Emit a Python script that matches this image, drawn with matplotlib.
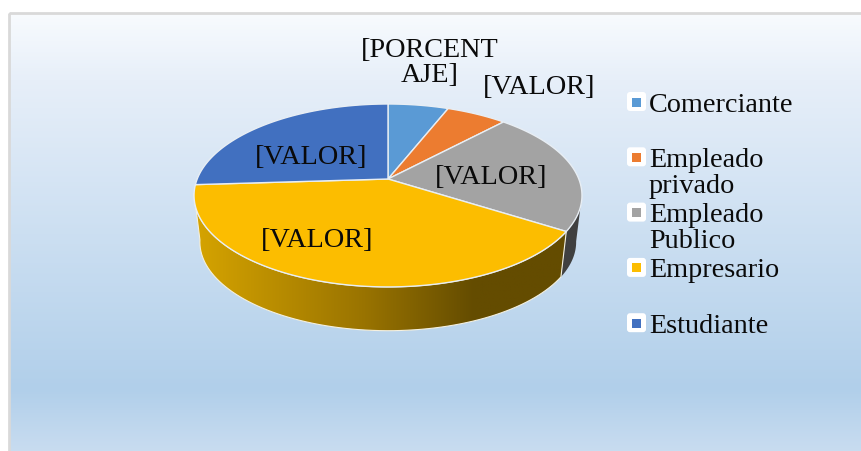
import matplotlib
matplotlib.use('Agg')
import matplotlib.pyplot as plt
import numpy as np
from matplotlib.colors import LinearSegmentedColormap
from matplotlib.patches import Polygon, Rectangle, FancyBboxPatch

categories = ['Comerciante', 'Empleado\nprivado', 'Empleado\nPublico', 'Empresario', 'Estudiante']
values = [6, 6, 22, 40, 26]
colors = ['#5A9AD5', '#EC7C30', '#A3A3A3', '#FCBD00', '#4170C0']

plt.rcParams['font.family'] = ['Liberation Serif', 'DejaVu Serif']
W, H = 861, 452
fig = plt.figure(figsize=(W / 100, H / 100), dpi=100)
ax = fig.add_axes([0, 0, 1, 1])

# panel background
bg = LinearSegmentedColormap.from_list('bg', [(0, '#F8FBFE'), (0.15, '#E7EFF9'), (0.86, '#B1CFEA'), (1, '#C8DCF0')])
ax.imshow(np.linspace(0, 1, 256).reshape(-1, 1), cmap=bg, extent=[9, W, H, 14], aspect='auto', zorder=0)
ax.add_patch(Rectangle((9, 14), W, H, fill=False, ec='#D9D9D9', lw=2, zorder=1))

# tilted pie, slight perspective
cx, cy = 388, 180
A, B, k = 88.5, 190.8, 0.18


def project(t, scale=1.0, dy=0.0):
    X, Y = np.sin(t), np.cos(t)
    d = 1 + k * Y
    return cx + scale * B * X / d, cy + dy - scale * A * Y / d


edges = np.cumsum([0] + values) / sum(values) * 2 * np.pi
depth, shrink = 47, 0.97


def wall(t0, t1):
    t = np.linspace(t0, t1, 80)
    x0, y0 = project(t)
    x1, y1 = project(t[::-1], shrink, depth)
    return np.r_[np.c_[x0, y0], np.c_[x1, y1]]


# side walls: gray piece and the big yellow piece
sil = np.arctan2(1, 0)  # right silhouette is near 90 degrees
ax.add_patch(Polygon(wall(np.radians(100), edges[3]), fc='#404040', ec='none', zorder=2))
yellow_wall = Polygon(wall(edges[3], np.radians(261)), fc='none', ec='#F4F0E0', lw=0.8, zorder=4)
ax.add_patch(yellow_wall)
side = LinearSegmentedColormap.from_list('side', [(0, '#D6A400'), (0.45, '#9A7400'), (0.75, '#644C00'), (1, '#644C00')])
grad = ax.imshow(np.linspace(0, 1, 256).reshape(1, -1), cmap=side, extent=[194, 568, 340, 190], aspect='auto', zorder=3)
grad.set_clip_path(yellow_wall)

# top faces
for i, c in enumerate(colors):
    t = np.linspace(edges[i], edges[i + 1], 120)
    x, y = project(t)
    pts = np.r_[[[cx, cy]], np.c_[x, y]]
    ax.add_patch(Polygon(pts, closed=True, fc=c, ec='#E8EEF4', lw=1.0, joinstyle='round', zorder=5))

# data labels
ts = 20.3
ax.text(430, 63, '[PORCENT\nAJE]', fontsize=ts, ha='center', va='center', linespacing=1.03, color='#0A0A0A', zorder=6)
ax.text(539, 88, '[VALOR]', fontsize=ts, ha='center', va='center', color='#0A0A0A', zorder=6)
ax.text(491, 178, '[VALOR]', fontsize=ts, ha='center', va='center', color='#0A0A0A', zorder=6)
ax.text(317, 241, '[VALOR]', fontsize=ts, ha='center', va='center', color='#0A0A0A', zorder=6)
ax.text(311, 158, '[VALOR]', fontsize=ts, ha='center', va='center', color='#0A0A0A', zorder=6)

# legend
for i, name in enumerate(categories):
    ly = 103 + 55.3 * i
    ax.add_patch(FancyBboxPatch((630, ly - 7), 13, 13, boxstyle='round,pad=3,rounding_size=3',
                                fc='white', ec='none', zorder=6))
    ax.add_patch(Rectangle((632, ly - 4.5), 9, 9, fc=colors[i], ec='none', zorder=7))
    ax.text(649, ly - 10.5, name, fontsize=ts, ha='left', va='top', linespacing=1.05, color='#0A0A0A', zorder=8)

ax.set_xlim(0, W)
ax.set_ylim(H, 0)
ax.axis('off')
fig.savefig('out.png', dpi=100, facecolor='white')
